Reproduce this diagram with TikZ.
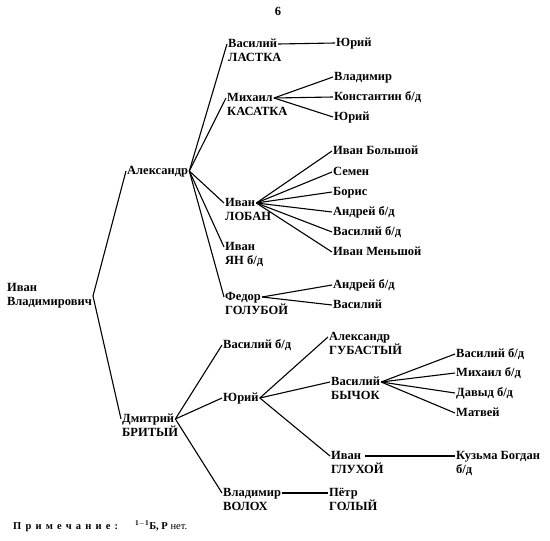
\documentclass[tikz,border=0pt]{standalone}
\usepackage{fontspec}
\setmainfont{Liberation Serif}
\usetikzlibrary{positioning}

\begin{document}
\begin{tikzpicture}[x=1pt,y=-1pt,every node/.style={font=\fontsize{12.5}{14}\selectfont\bfseries,inner sep=1pt}]
      \tikzstyle{nm}=[anchor=west,text height=9pt,text depth=3pt]
      \tikzstyle{sur}=[anchor=north west,text height=9pt,text depth=3pt]
      \tikzstyle{link}=[line width=1.1pt]
      \useasboundingbox (0,0) rectangle (550,541);

      \node (page) at (278,11) {6};

      % root and sons
      \node[align=left,anchor=east] (ivan) at (93,296) {Иван\\Владимирович};
      \node[nm] (alex) at (126,171) {Александр};
      \node[nm,label={[sur]south west:БРИТЫЙ}] (dmit) at (121,419) {Дмитрий};

      % Александр's line
      \node[nm,label={[sur]south west:ЛАСТКА}] (vlas) at (227,44) {Василий};
      \node[nm,label={[sur]south west:КАСАТКА}] (mkas) at (226,98) {Михаил};
      \node[nm,label={[sur]south west:ЛОБАН}] (ilob) at (224,203) {Иван};
      \node[nm,label={[sur]south west:ЯН б/д}] (iyan) at (224,247) {Иван};
      \node[nm,label={[sur]south west:ГОЛУБОЙ}] (fgol) at (224,297) {Федор};

      \node[nm] (vlyur) at (335,43) {Юрий};
      \node[nm] (kvla) at (333,77) {Владимир};
      \node[nm] (kkon) at (333,97) {Константин б/д};
      \node[nm] (kyur) at (333,117) {Юрий};

      \node[nm] (lbol) at (332,151) {Иван Большой};
      \node[nm] (lsem) at (332,172) {Семен};
      \node[nm] (lbor) at (332,192) {Борис};
      \node[nm] (land) at (332,212) {Андрей б/д};
      \node[nm] (lvas) at (332,232) {Василий б/д};
      \node[nm] (lmen) at (332,252) {Иван Меньшой};

      \node[nm] (gand) at (332,285) {Андрей б/д};
      \node[nm] (gvas) at (332,305) {Василий};

      % Дмитрий's line
      \node[nm] (dvas) at (222,345) {Василий б/д};
      \node[nm] (dyur) at (222,398) {Юрий};
      \node[nm,label={[sur]south west:ВОЛОХ}] (dvol) at (222,493) {Владимир};

      \node[nm,label={[sur]south west:ГУБАСТЫЙ}] (ygub) at (328,337) {Александр};
      \node[nm,label={[sur]south west:БЫЧОК}] (ybyc) at (330,382) {Василий};
      \node[nm,label={[sur]south west:ГЛУХОЙ}] (yglu) at (330,456) {Иван};
      \node[nm,label={[sur]south west:ГОЛЫЙ}] (vpet) at (328,493) {Пётр};

      \node[nm] (bvas) at (455,354) {Василий б/д};
      \node[nm] (bmih) at (455,373) {Михаил б/д};
      \node[nm] (bdav) at (455,393) {Давыд б/д};
      \node[nm] (bmat) at (455,413) {Матвей};
      \node[nm,label={[sur]south west:б/д}] (gkuz) at (455,456) {Кузьма Богдан};

      \draw[link] (ivan.east) -- (alex.west);
      \draw[link] (ivan.east) -- (dmit.west);

      \draw[link] (alex.east) -- (vlas.west);
      \draw[link] (alex.east) -- (mkas.west);
      \draw[link] (alex.east) -- (ilob.west);
      \draw[link] (alex.east) -- (iyan.west);
      \draw[link] (alex.east) -- (fgol.west);

      \draw[link] (vlas.east) -- (vlyur.west);
      \draw[link] (mkas.east) -- (kvla.west);
      \draw[link] (mkas.east) -- (kkon.west);
      \draw[link] (mkas.east) -- (kyur.west);

      \draw[link] (ilob.east) -- (lbol.west);
      \draw[link] (ilob.east) -- (lsem.west);
      \draw[link] (ilob.east) -- (lbor.west);
      \draw[link] (ilob.east) -- (land.west);
      \draw[link] (ilob.east) -- (lvas.west);
      \draw[link] (ilob.east) -- (lmen.west);

      \draw[link] (fgol.east) -- (gand.west);
      \draw[link] (fgol.east) -- (gvas.west);

      \draw[link] (dmit.east) -- (dvas.west);
      \draw[link] (dmit.east) -- (dyur.west);
      \draw[link] (dmit.east) -- (dvol.west);

      \draw[link] (dyur.east) -- (ygub.west);
      \draw[link] (dyur.east) -- (ybyc.west);
      \draw[link] (dyur.east) -- (yglu.west);
      \draw[link] (dvol.east) -- (vpet.west);

      \draw[link] (ybyc.east) -- (bvas.west);
      \draw[link] (ybyc.east) -- (bmih.west);
      \draw[link] (ybyc.east) -- (bdav.west);
      \draw[link] (ybyc.east) -- (bmat.west);
      \draw[link,shorten <=3pt] (yglu.east) -- (gkuz.west);

      % note at the foot
      \node[anchor=west,font=\fontsize{10.5}{12}\selectfont\bfseries] (note) at (12,527)
        {\addfontfeatures{LetterSpace=40}Примечание:};
      \node[anchor=west,font=\fontsize{10.5}{12}\selectfont] (notetx) at (134,526)
        {$^{\mathbf{1-1}}$\textbf{Б, Р} нет.};
    \end{tikzpicture}
\end{document}
